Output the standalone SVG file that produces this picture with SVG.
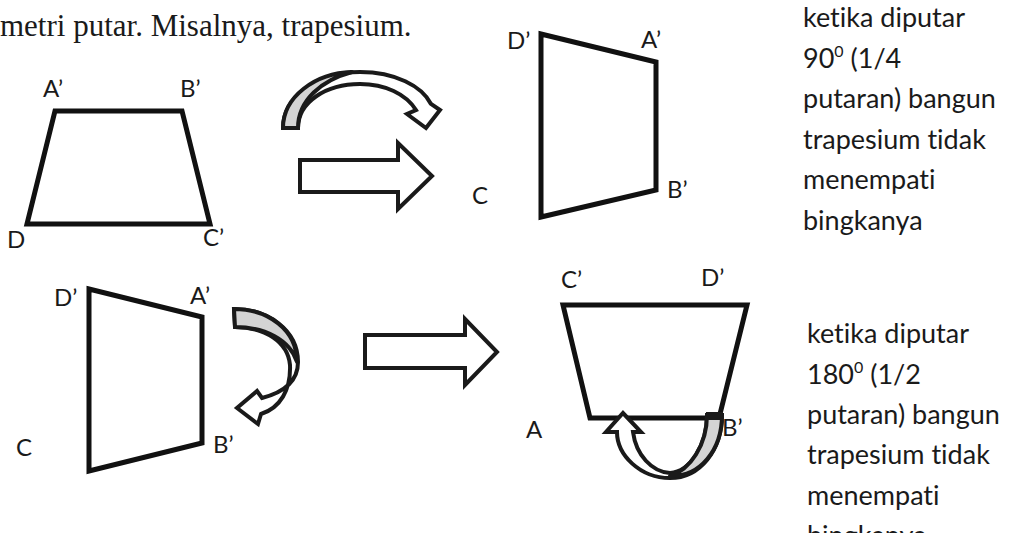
<svg xmlns="http://www.w3.org/2000/svg" width="1011" height="533" viewBox="0 0 1011 533">
<style>
.trap{fill:none;stroke:#111;stroke-width:5;stroke-linejoin:miter}
.lbl{font-family:Lato,"Liberation Sans",sans-serif;font-size:24px;fill:#1a1a1a}
.desc{font-family:Lato,"Liberation Sans",sans-serif;font-size:27px;fill:#1a1a1a;font-variant-ligatures:none}
.sup{font-size:16px}
.blk{fill:#fff;stroke:#1a1a1a;stroke-width:4;stroke-linejoin:miter}
.grey{fill:#d4d4d4;stroke:#1a1a1a;stroke-width:4;stroke-linejoin:round}
</style>
<rect width="1011" height="533" fill="#fff"/>
<text x="0" y="36" font-family="'Liberation Serif',serif" font-size="31" fill="#1a1a1a">metri putar. Misalnya, trapesium.</text>

<g id="trap1">
<polygon class="trap" points="55,111 182,111 210,224 27,224"/>
<text class="lbl" x="43" y="97">A’</text>
<text class="lbl" x="180" y="97">B’</text>
<text class="lbl" x="7" y="248">D</text>
<text class="lbl" x="203" y="246">C’</text>
</g>

<g id="trap2">
<polygon class="trap" points="541,34 656,62 656,190 541,217"/>
<text class="lbl" x="507" y="49">D’</text>
<text class="lbl" x="641" y="48">A’</text>
<text class="lbl" x="667" y="198">B’</text>
<text class="lbl" x="472" y="204">C</text>
</g>

<g id="trap3">
<polygon class="trap" points="89,289 202,317 202,443 89,471"/>
<text class="lbl" x="54" y="306">D’</text>
<text class="lbl" x="190" y="304">A’</text>
<text class="lbl" x="213" y="453">B’</text>
<text class="lbl" x="16" y="456">C</text>
</g>

<g id="trap4">
<polygon class="trap" points="563,305 747,305 719,418 590,418"/>
<text class="lbl" x="561" y="288">C’</text>
<text class="lbl" x="701" y="286">D’</text>
<text class="lbl" x="526" y="438">A</text>
<text class="lbl" x="722" y="436">B’</text>
</g>

<g id="connectors">
<g id="curve1">
<path class="blk" d="M283,128 C283,97 318,72 360,72 C395,72 422,86 431,104 L440,110 L426,128 L407,114 L416,110 C406,94 385,84 360,84 C326,84 298,102 298,128 Z"/>
<path class="grey" d="M283,128 C283,97 315,73 352,72 C322,80 298,100 298,128 Z"/>
</g>
<polygon id="arrow1" class="blk" points="300,160 398,160 398,143 432,176 398,209 398,192 300,192"/>
<polygon id="arrow2" class="blk" points="365,335 465,335 465,319 497,352 465,385 465,368 365,368"/>
<g id="curve2">
<path class="blk" d="M234,309 C268,309 298,330 298,362 C298,380 285,392 262,398 L257,391 L237,408 L258,424 L261,414 C280,408 291,390 290,365 C288,342 265,327 235,327 Z"/>
<path class="grey" d="M234,309 C268,309 297,330 297,362 C290,340 265,327 235,327 Z"/>
</g>
<g id="curve3">
<path class="blk" d="M722,415 C722,450 700,478 670,478 C640,478 617,455 617,432 L606,432 L623,413 L641,432 L633,432 C636,455 652,472 670,473 C690,472 707,445 707,415 Z"/>
<path class="grey" d="M707,415 L722,415 C722,450 700,477 670,476 C690,470 707,445 707,415 Z"/>
<rect x="706" y="412" width="17" height="8" fill="#1a1a1a"/>
</g>
</g>

<g id="desc1" class="desc">
<text x="803" y="27">ketika diputar</text>
<text x="803" y="68">90<tspan class="sup" dy="-11">0</tspan><tspan dy="11"> (1/4</tspan></text>
<text x="803" y="108">putaran) bangun</text>
<text x="803" y="149">trapesium tidak</text>
<text x="803" y="189">menempati</text>
<text x="803" y="230">bingkanya</text>
</g>
<g id="desc2" class="desc">
<text x="807" y="343">ketika diputar</text>
<text x="807" y="384">180<tspan class="sup" dy="-11">0</tspan><tspan dy="11"> (1/2</tspan></text>
<text x="807" y="424">putaran) bangun</text>
<text x="807" y="464">trapesium tidak</text>
<text x="807" y="505">menempati</text>
<text x="807" y="545">bingkanya</text>
</g>
</svg>
